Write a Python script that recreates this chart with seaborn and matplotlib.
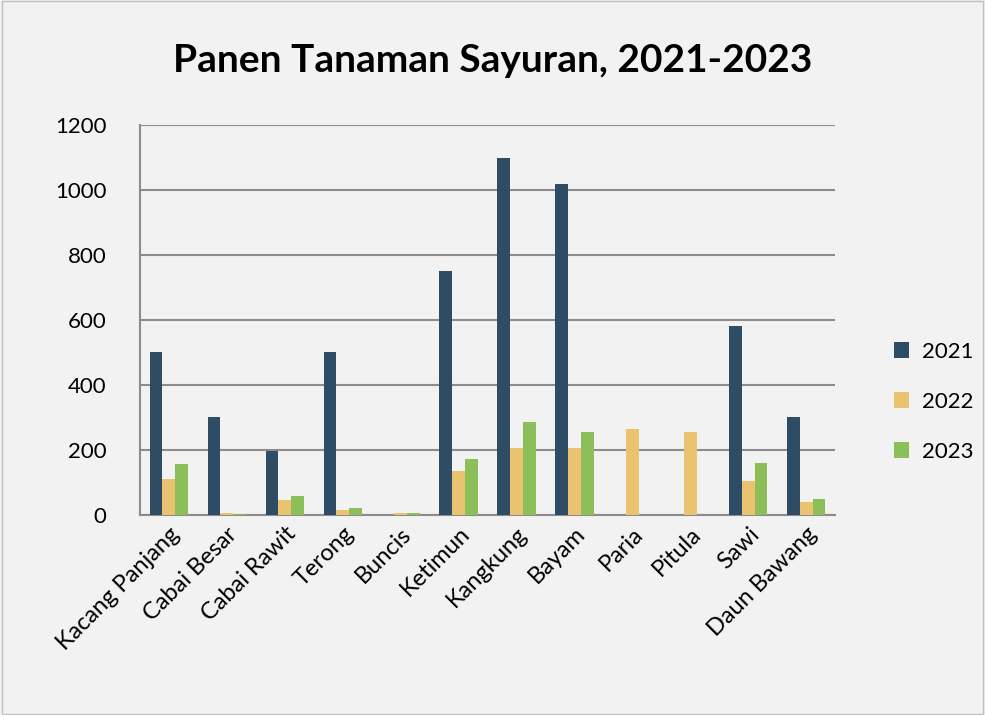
import numpy as np
import pandas as pd
import seaborn as sns
import matplotlib.pyplot as plt

sayuran = ["Kacang Panjang", "Cabai Besar", "Cabai Rawit", "Terong", "Buncis", "Ketimun",
           "Kangkung", "Bayam", "Paria", "Pitula", "Sawi", "Daun Bawang"]
panen_2021 = [500, 300, 195, 500, 0, 750, 1100, 1020, 0, 0, 580, 300]
panen_2022 = [110, 5, 45, 15, 5, 135, 205, 205, 265, 255, 105, 40]
panen_2023 = [155, 2, 58, 22, 5, 172, 285, 255, 0, 0, 160, 48]
tahun = ["2021", "2022", "2023"]
warna = ["#264d6e", "#fdcb5c", "#8ccf48"]

df = pd.DataFrame({"Sayuran": sayuran, "2021": panen_2021, "2022": panen_2022, "2023": panen_2023})
df = df.melt(id_vars="Sayuran", var_name="Tahun", value_name="Panen")

sns.set_style("white")
plt.rcParams['font.family'] = ['Lato', 'DejaVu Sans']
plt.rcParams['text.color'] = "black"
plt.rcParams['xtick.color'] = "black"
plt.rcParams['ytick.color'] = "black"

fig = plt.figure(figsize=(9.85, 7.15), dpi=100, facecolor="#f2f2f2")
ax = fig.add_axes([0.142, 0.28, 0.706, 0.545])
ax.set_facecolor("#f2f2f2")

sns.barplot(data=df, x="Sayuran", y="Panen", hue="Tahun", hue_order=tahun,
            palette=warna, width=0.66, edgecolor="none", ax=ax, zorder=3)

ax.set_ylim(0, 1200)
ax.set_yticks(range(0, 1201, 200))
ax.yaxis.grid(True, color="#8c8c8c", linewidth=1.5, zorder=0)
ax.set_xlim(-0.5, len(sayuran) - 0.5)
for s in ["top", "right"]:
    ax.spines[s].set_visible(False)
for s in ["left", "bottom"]:
    ax.spines[s].set_color("#8c8c8c")
    ax.spines[s].set_linewidth(1.5)

ax.set_xlabel("")
ax.set_ylabel("")
ax.tick_params(axis="y", labelsize=16, length=0, pad=24)
ax.tick_params(axis="x", labelsize=17, length=0, pad=6)
plt.setp(ax.get_xticklabels(), rotation=45, ha="right", rotation_mode="anchor")

ax.legend(title=None, frameon=False, fontsize=16, loc="center left",
          bbox_to_anchor=(1.055, 0.29), handlelength=0.7, handleheight=0.7,
          handletextpad=0.6, labelspacing=1.35)

fig.text(0.5, 0.915, "Panen Tanaman Sayuran, 2021-2023", ha="center", va="center",
         fontsize=28, fontweight="bold")

fig.patches.append(plt.Rectangle((0.002, 0.002), 0.996, 0.996, transform=fig.transFigure,
                                 fill=False, edgecolor="#bfbfbf", linewidth=1))

fig.savefig("out.png", dpi=100, facecolor=fig.get_facecolor())
